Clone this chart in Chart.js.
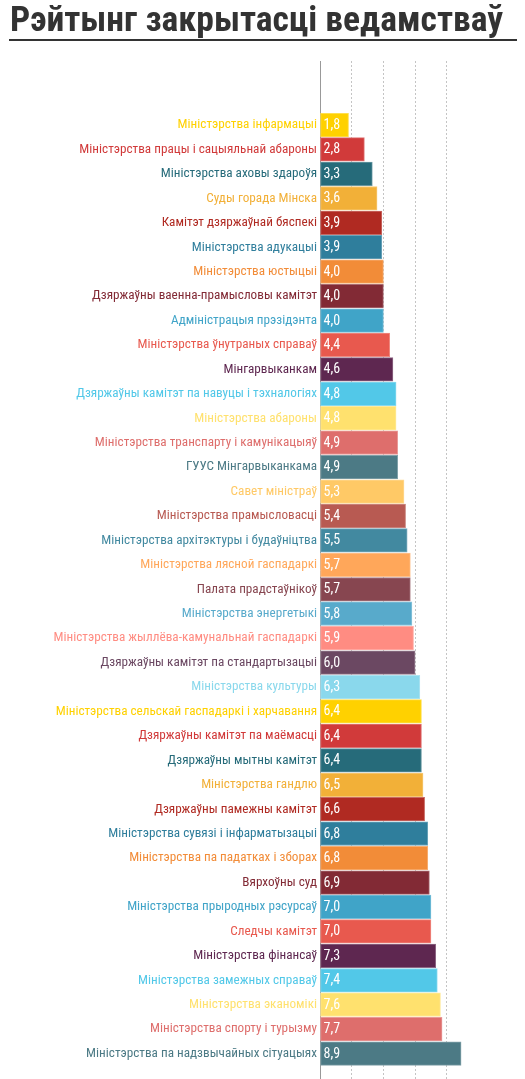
<!DOCTYPE html>
<html><head><meta charset="utf-8">
<script src="https://cdn.jsdelivr.net/npm/chart.js@4.4.1/dist/chart.umd.min.js"></script>
<style>
html,body{margin:0;padding:0;background:#fff;}
#wrap{position:relative;width:525px;height:1079px;overflow:hidden;}
#title{position:absolute;left:10px;top:2px;margin:0;font-family:"Roboto Condensed","Roboto",sans-serif;font-weight:700;font-size:35.6px;line-height:1;color:#333;white-space:nowrap;}
#rule{position:absolute;left:9px;top:39px;width:508px;height:2px;background:#333;}
#box{position:absolute;left:0;top:0;width:525px;height:1079px;}
</style></head>
<body><div id="wrap">
<div id="box"><canvas id="c"></canvas></div>
<h1 id="title">Рэйтынг закрытасці ведамстваў</h1>
<div id="rule"></div>
</div>
<script>
const categories = [
 'Міністэрства інфармацыі','Міністэрства працы і сацыяльнай абароны','Міністэрства аховы здароўя','Суды горада Мінска',
 'Камітэт дзяржаўнай бяспекі','Міністэрства адукацыі','Міністэрства юстыцыі','Дзяржаўны ваенна-прамысловы камітэт',
 'Адміністрацыя прэзідэнта','Міністэрства ўнутраных справаў','Мінгарвыканкам','Дзяржаўны камітэт па навуцы і тэхналогіях',
 'Міністэрства абароны','Міністэрства транспарту і камунікацыяў','ГУУС Мінгарвыканкама','Савет міністраў',
 'Міністэрства прамысловасці','Міністэрства архітэктуры і будаўніцтва','Міністэрства лясной гаспадаркі','Палата прадстаўнікоў',
 'Міністэрства энергетыкі','Міністэрства жыллёва-камунальнай гаспадаркі','Дзяржаўны камітэт па стандартызацыі','Міністэрства культуры',
 'Міністэрства сельскай гаспадаркі і харчавання','Дзяржаўны камітэт па маёмасці','Дзяржаўны мытны камітэт','Міністэрства гандлю',
 'Дзяржаўны памежны камітэт','Міністэрства сувязі і інфарматызацыі','Міністэрства па падатках і зборах','Вярхоўны суд',
 'Міністэрства прыродных рэсурсаў','Следчы камітэт','Міністэрства фінансаў','Міністэрства замежных справаў',
 'Міністэрства эканомікі','Міністэрства спорту і турызму','Міністэрства па надзвычайных сітуацыях'
];
const values = [1.8,2.8,3.3,3.6,3.9,3.9,4.0,4.0,4.0,4.4,4.6,4.8,4.8,4.9,4.9,5.3,5.4,5.5,5.7,5.7,5.8,5.9,6.0,6.3,
 6.4,6.4,6.4,6.5,6.6,6.8,6.8,6.9,7.0,7.0,7.3,7.4,7.6,7.7,8.9];
const palette = ['#FFD100','#D13A3A','#266B7A','#F2B038','#B02A22','#2F7E9C','#F28C38','#822A35',
 '#40A4C8','#E8594E','#5E2750','#52C8E8','#FFE16E','#DE6E6C','#4C7A85','#FFC966',
 '#B85A52','#4289A0','#FFA75A','#874650','#58AACB','#FF8C82','#6B4862','#8AD8EC'];
const xTicks = [0,2,4,6,8];

const colorOf = i => palette[((i % palette.length) + palette.length) % palette.length];
function lighten(hex, t){
  const n = parseInt(hex.slice(1),16);
  const r=(n>>16)&255,g=(n>>8)&255,b=n&255;
  const m=v=>Math.round(v+(255-v)*t);
  return 'rgb('+m(r)+','+m(g)+','+m(b)+')';
}
const FONT = '"Roboto Condensed","Roboto",sans-serif';

const valueLabels = {
  id:'valueLabels',
  afterDatasetsDraw(chart){
    const ctx = chart.ctx;
    const meta = chart.getDatasetMeta(0);
    ctx.save();
    ctx.fillStyle = '#fff';
    ctx.font = '14px ' + FONT;
    ctx.textAlign = 'left';
    ctx.textBaseline = 'middle';
    meta.data.forEach((bar, i) => {
      ctx.fillText(values[i].toFixed(1).replace('.', ','), bar.base + 3, bar.y + 0.5);
    });
    ctx.restore();
  }
};

new Chart(document.getElementById('c'), {
  type:'bar',
  data:{
    datasets:[{
      data: values.map((v,i)=>({x:v, y:i})),
      backgroundColor: values.map((v,i)=>colorOf(i)),
      borderColor: values.map((v,i)=>lighten(colorOf(i),0.3)),
      borderWidth: 1,
      borderSkipped: false,
      barThickness: 23.6
    }]
  },
  options:{
    indexAxis:'y',
    responsive:true,
    maintainAspectRatio:false,
    animation:false,
    layout:{padding:{top:61,right:54.4,bottom:0,left:0}},
    plugins:{legend:{display:false},tooltip:{enabled:false},title:{display:false}},
    scales:{
      x:{
        type:'linear', position:'bottom', min:0, max:9.5, bounds:'data', offset:false,
        afterBuildTicks(scale){ scale.ticks = xTicks.map(v => ({value:v})); },
        afterFit(scale){ scale.height = 0; scale.paddingLeft = 0; scale.paddingRight = 0; },
        ticks:{display:false},
        grid:{
          drawTicks:false, offset:false,
          color: c => (c.tick && c.tick.value > 0) ? '#c4c4c4' : 'rgba(0,0,0,0)',
          lineWidth:1
        },
        border:{display:false, dash:[2,2]}
      },
      y:{
        type:'linear', reverse:true, min:-2.62, max:39.04, bounds:'data', offset:false,
        afterBuildTicks(scale){ scale.ticks = categories.map((c, i) => ({value:i})); },
        afterFit(scale){ scale.width = 320; scale.paddingTop = 0; scale.paddingBottom = 0; },
        ticks:{
          autoSkip:false, padding:3,
          font:{family:FONT, size:13.2},
          color: c => colorOf(Math.round(c.tick.value)),
          callback: v => categories[Math.round(v)] || ''
        },
        grid:{display:false, drawTicks:false, offset:false},
        border:{display:true, color:'#999', width:1}
      }
    }
  },
  plugins:[valueLabels]
});
</script>
</body></html>
